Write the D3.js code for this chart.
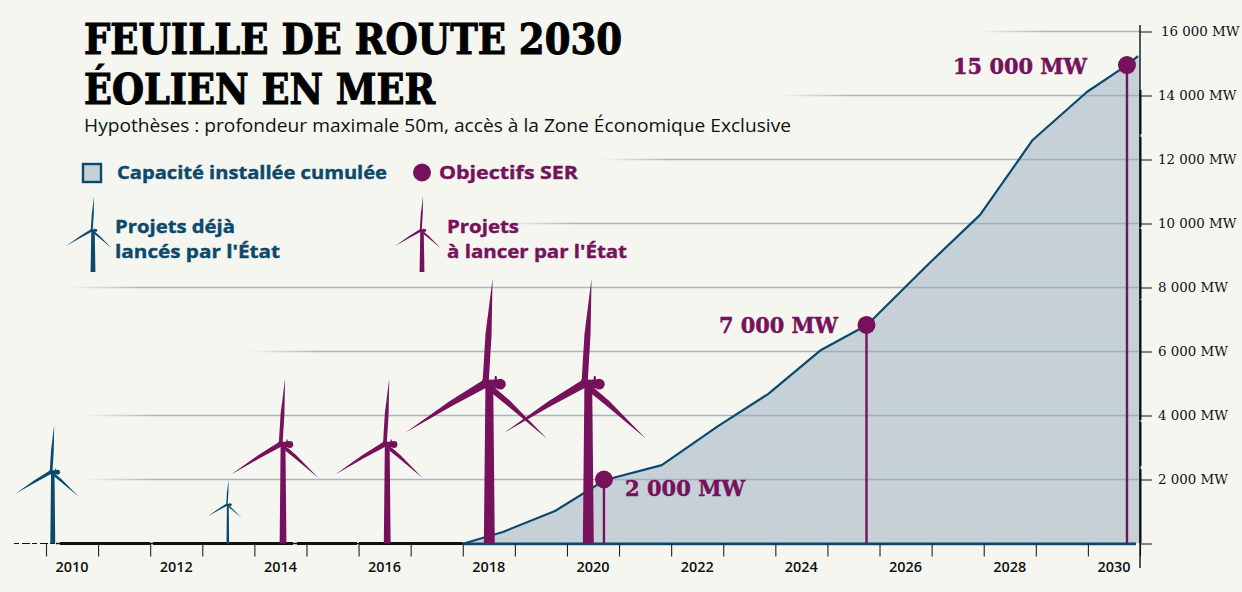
<!DOCTYPE html>
<html lang="fr">
<head>
<meta charset="utf-8">
<script src="https://d3js.org/d3.v7.min.js"></script>
<style>
html,body{margin:0;padding:0;background:#f6f6f1;overflow:hidden}
svg{display:block}
.sans{font-family:"Open Sans",sans-serif}
.slab{font-family:"DejaVu Serif",serif;font-weight:700}
</style>
</head>
<body>
<svg id="chart" width="1242" height="592"></svg>
<script>
// ---------- data ----------
const capacityYears = [2018.02,2018.77,2019.77,2020.73,2021.82,2022.90,2023.86,2024.86,2025.76,2026.97,2027.93,2028.94,2029.98,2030.75,2030.96];
const capacityMW    = [0,360,1015,1985,2450,3670,4670,6030,6830,8780,10270,12610,14110,14950,15230];
const objectiveYears  = [2020.71,2025.75,2030.75];
const objectiveMW     = [2000,6830,14950];
const objectiveLabels = ["2 000 MW","7 000 MW","15 000 MW"];
const launchedYears = [2010.13,2013.49];
const launchedHubMW = [2250,1220];
const plannedYears  = [2014.55,2016.55,2018.51,2020.41];
const plannedHubMW  = [3125,3125,5030,5030];
const yTicks = [0,2000,4000,6000,8000,10000,12000,14000,16000];
const yTickLabels = ["","2 000 MW","4 000 MW","6 000 MW","8 000 MW","10 000 MW","12 000 MW","14 000 MW","16 000 MW"];
const xTickYears = d3.range(2010,2032);
const xLabelYears = d3.range(2010,2031,2);
const titleLines = ["FEUILLE DE ROUTE 2030","ÉOLIEN EN MER"];
const subtitle = "Hypothèses : profondeur maximale 50m, accès à la Zone Économique Exclusive";

// ---------- styling ----------
const BLUE="#0b4a6c", PURPLE="#75125b", FILL="#c5d1d7", GRID="#9aa9c0", INK="#111";
const gridStarts=[84,84,248,70,506,600,780,977]; // left end of each gridline, px

const svg=d3.select("#chart");
const x=d3.scaleLinear().domain([2010,2031]).range([46,1140]);
const y=d3.scaleLinear().domain([0,16000]).range([543.5,31.5]);
const capacity=capacityYears.map((d,i)=>({year:d,mw:capacityMW[i]}));

// gradients for the faded gridline starts
const defs=svg.append("defs");
yTicks.slice(1).forEach((t,i)=>{
  const g=defs.append("linearGradient").attr("id","g"+i).attr("gradientUnits","userSpaceOnUse")
    .attr("x1",gridStarts[i]).attr("x2",gridStarts[i]+70).attr("y1",0).attr("y2",0);
  g.append("stop").attr("offset",0).attr("stop-color",GRID).attr("stop-opacity",0);
  g.append("stop").attr("offset",1).attr("stop-color",GRID).attr("stop-opacity",1);
});

// area
svg.append("path").datum(capacity)
  .attr("fill",FILL)
  .attr("d",d3.area().x(d=>x(d.year)).y0(y(0)).y1(d=>y(d.mw))(capacity.concat([{year:2031,mw:15300}])));

// gridlines
yTicks.slice(1).forEach((t,i)=>{
  const l=svg.append("g");
  l.append("line").attr("x1",gridStarts[i]).attr("x2",x(2031)).attr("y1",y(t)).attr("y2",y(t))
    .attr("stroke",`url(#g${i})`).attr("stroke-width",1.6).attr("opacity",.85);
});

// capacity line & baseline
svg.append("line").attr("x1",14).attr("x2",60).attr("y1",y(0)).attr("y2",y(0))
  .attr("stroke",INK).attr("stroke-width",1).attr("stroke-dasharray","5 3 8 2");
svg.append("line").attr("x1",56).attr("x2",x(2018)).attr("y1",y(0)).attr("y2",y(0))
  .attr("stroke",INK).attr("stroke-width",1.5);
svg.append("line").attr("x1",60).attr("x2",x(2018)).attr("y1",y(0)).attr("y2",y(0))
  .attr("stroke",INK).attr("stroke-width",2.8).attr("stroke-dasharray","90 3 140 4 60 2 170 1");
svg.append("line").attr("x1",x(2018)).attr("x2",1136).attr("y1",y(0)+.3).attr("y2",y(0)+.3)
  .attr("stroke",BLUE).attr("stroke-width",2.8);
svg.append("path").datum(capacity).attr("fill","none").attr("stroke",BLUE).attr("stroke-width",2.2)
  .attr("stroke-linejoin","round")
  .attr("d",d3.line().x(d=>x(d.year)).y(d=>y(d.mw)));

// x axis
const xAxis=d3.axisBottom(x).tickValues(xTickYears).tickSize(13).tickSizeOuter(0).tickFormat("");
const gx=svg.append("g").attr("transform",`translate(0,${y(0)})`).call(xAxis);
gx.select(".domain").remove();
gx.selectAll(".tick line").attr("stroke","#222").attr("stroke-width",1.1);
svg.append("g").selectAll("text").data(xLabelYears).join("text")
  .attr("class","sans").attr("x",d=>x(d+.5)).attr("y",571.5).attr("text-anchor","middle")
  .attr("font-size",14).attr("font-weight",600).attr("fill","#111")
  .attr("textLength",33).attr("lengthAdjust","spacingAndGlyphs").text(d=>d);

// y axis
const yAxis=d3.axisRight(y).tickValues(yTicks).tickSize(12).tickSizeOuter(0)
  .tickFormat(d=>yTickLabels[yTicks.indexOf(d)]);
const gy=svg.append("g").attr("transform",`translate(${x(2031)},0)`).call(yAxis);
gy.select(".domain").remove();
gy.selectAll(".tick line").attr("stroke","#222").attr("stroke-width",1.1);
gy.selectAll(".tick text").attr("x",d=>d===16000?21:18).attr("fill","#111")
  .attr("font-family","'DejaVu Serif',serif").attr("font-size",13.4);
svg.append("line").attr("x1",x(2031)).attr("x2",x(2031)).attr("y1",25).attr("y2",568)
  .attr("stroke",INK).attr("stroke-width",1.4);
svg.append("line").attr("x1",x(2031)+.4).attr("x2",x(2031)+.4).attr("y1",90).attr("y2",543)
  .attr("stroke",INK).attr("stroke-width",2.2).attr("stroke-dasharray","44 3 90 2 70 1 120 2");

// turbine shape, in units of the hub height
const tower=[[-.034,0],[.034,0],[.024,1],[-.024,1]];
const bladeUp=[[-.042,1],[-.024,1.3],[.02,1.645],[.014,1.3],[-.004,1]];
const bladeLeft=[[-.04,1.015],[-.25,.882],[-.52,.69],[-.235,.852],[-.005,.975]];
const bladeRight=[[.02,.98],[.13,.885],[.357,.652],[.105,.862],[.02,.93]];
const hubBar=[[-.045,1.018],[.06,1.018],[.06,.965],[-.045,.965]];
const fin=[[.035,1.04],[.045,1.04],[.05,1],[.03,1]];

// bladeScale enlarges the rotor around the hub; towerScale widens the mast (legend icons)
function turbine(g,cx,base,h,color,bladeScale=1,towerScale=1){
  const pts=p=>p.map(([a,b])=>[cx+a*h,base-b*h]);
  const mast=p=>p.map(([a,b])=>[cx+a*h*towerScale,base-b*h]);
  const rotor=p=>p.map(([a,b])=>[cx+a*h*bladeScale,base-h-(b-1)*h*bladeScale]);
  const ln=d3.line().curve(d3.curveLinearClosed);
  g.append("path").attr("d",ln(mast(tower))).attr("fill",color);
  [hubBar,fin].forEach(s=>g.append("path").attr("d",ln(pts(s))).attr("fill",color));
  [bladeUp,bladeLeft,bladeRight].forEach(s=>g.append("path").attr("d",ln(rotor(s))).attr("fill",color));
  g.append("circle").attr("cx",cx+.068*h).attr("cy",base-.99*h).attr("r",.034*h).attr("fill",color);
}
const tg=svg.append("g");
launchedYears.forEach((d,i)=>turbine(tg,x(d),y(0),y(0)-y(launchedHubMW[i]),BLUE));
plannedYears.forEach((d,i)=>turbine(tg,x(d),y(0),y(0)-y(plannedHubMW[i]),PURPLE));

// objectives
const pins=svg.append("g");
objectiveYears.forEach((d,i)=>{
  pins.append("line").attr("x1",x(d)).attr("x2",x(d)).attr("y1",y(objectiveMW[i])).attr("y2",y(0))
    .attr("stroke",PURPLE).attr("stroke-width",2.4);
  pins.append("circle").attr("cx",x(d)).attr("cy",y(objectiveMW[i])).attr("r",9).attr("fill",PURPLE);
});
const labelBoxes=[[625,496,120],[719,333,119],[953,74,134]];
objectiveLabels.forEach((t,i)=>{
  const [lx,ly,lw]=labelBoxes[i];
  svg.append("text").attr("class","slab").attr("x",lx).attr("y",ly).attr("font-size",22.5)
    .attr("fill",PURPLE).attr("stroke",PURPLE).attr("stroke-width",.5)
    .attr("textLength",lw).attr("lengthAdjust","spacingAndGlyphs").text(t);
});

// title block
const titleBoxes=[[84,54,538],[84,103.5,351]];
titleLines.forEach((t,i)=>{
  svg.append("text").attr("x",titleBoxes[i][0]).attr("y",titleBoxes[i][1])
    .attr("font-family","'DejaVu Serif Condensed','DejaVu Serif',serif").attr("font-weight",700)
    .attr("font-size",42.5).attr("fill","#000").attr("stroke","#000").attr("stroke-width",1)
    .attr("textLength",titleBoxes[i][2]).attr("lengthAdjust","spacingAndGlyphs").text(t);
});
svg.append("text").attr("class","sans").attr("x",84).attr("y",132).attr("font-size",18.5).attr("fill","#111")
  .attr("textLength",707).attr("lengthAdjust","spacingAndGlyphs").text(subtitle);

// legend
svg.append("rect").attr("x",83).attr("y",164).attr("width",18).attr("height",18)
  .attr("fill",FILL).attr("stroke",BLUE).attr("stroke-width",2.4);
svg.append("circle").attr("cx",422).attr("cy",172.5).attr("r",9).attr("fill",PURPLE);
turbine(svg.append("g"),93,272,42,BLUE,1.25,1.7);
turbine(svg.append("g"),422,272,42,PURPLE,1.25,1.7);
const legendTexts=[
  ["Capacité installée cumulée",117,179,270,BLUE],
  ["Objectifs SER",439,179,139,PURPLE],
  ["Projets déjà",115,233,120,BLUE],
  ["lancés par l'État",115,258,165,BLUE],
  ["Projets",447,233,72,PURPLE],
  ["à lancer par l'État",447,258,180,PURPLE]];
legendTexts.forEach(([t,lx,ly,lw,c])=>{
  svg.append("text").attr("class","sans").attr("x",lx).attr("y",ly).attr("font-size",18.3)
    .attr("font-weight",700).attr("fill",c).attr("stroke",c).attr("stroke-width",.4)
    .attr("textLength",lw).attr("lengthAdjust","spacingAndGlyphs").text(t);
});
</script>
</body>
</html>
